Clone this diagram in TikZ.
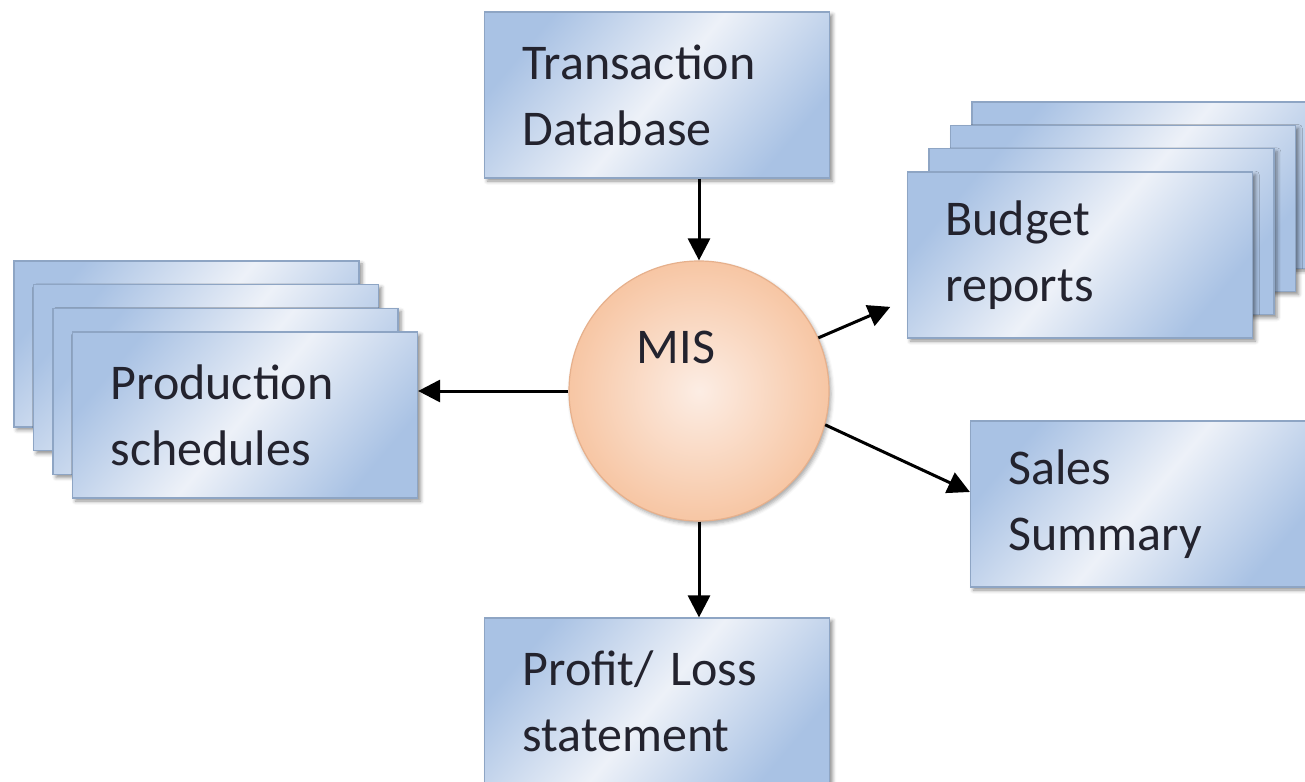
\documentclass[tikz,border=0pt]{standalone}
\usepackage{fontspec}
\setmainfont{Carlito}
\usepackage{xcolor}
\usetikzlibrary{arrows.meta,calc,shadows.blur}
\definecolor{boxdark}{HTML}{A9C2E4}
\definecolor{boxlight}{HTML}{EDF1F8}
\definecolor{boxline}{HTML}{8EA5C4}
\definecolor{misouter}{HTML}{F7C6A4}
\definecolor{misinner}{HTML}{FCEDE4}
\definecolor{misline}{HTML}{E6B08C}
\definecolor{txt}{HTML}{23232E}
\tikzset{
	report/.style={
			draw=boxline, line width=0.6pt,
			left color=boxdark, right color=boxdark, middle color=boxlight, shading angle=50,
			blur shadow={shadow xshift=1.5pt, shadow yshift=-1.5pt, shadow blur steps=4, shadow opacity=45},
			minimum height=83pt, text width=134.5pt, inner xsep=19pt,
			align=left, text=txt, font=\fontsize{25}{33}\selectfont
		},
	flow/.style={-{Triangle[length=11pt,width=11pt]}, line width=1.5pt}
}

\begin{document}
\begin{tikzpicture}[x=0.5pt, y=-0.5pt]
		\useasboundingbox (0,0) rectangle (1305,781);
		\coordinate (budgetpos) at (1080,255);
		\coordinate (prodpos) at (245,415);
		\foreach \i in {3,2,1}
			\node[report] (budget\i) at ($(budgetpos)+(\i*21.5,-\i*23.3)$) {};
		\node[report] (budget) at (budgetpos) {Budget\\reports};
		\foreach \i in {3,2,1}
			\node[report] (prod\i) at ($(prodpos)+(-\i*19.5,-\i*23.7)$) {};
		\node[report] (prod) at (prodpos) {Production\\schedules};
		\node[report] (trans) at (657,95) {Transaction\\Database};
		\node[report] (sales) at (1143,504) {Sales\\Summary};
		\node[report] (profit) at (657,701) {Profit/ Loss\\statement};
		\node[circle, draw=misline, line width=0.6pt, inner color=misinner, outer color=misouter,
			minimum size=130pt, blur shadow={shadow xshift=1pt, shadow yshift=-1.5pt, shadow opacity=35}] (mis) at (699,391) {};
		\node[text=txt, font=\fontsize{25}{33}\selectfont] (mislabel) at ($(mis)+(-23,-44)$) {MIS};
		\draw[flow] (trans.south -| mis.north) -- (mis.north);
		\draw[flow] (mis.south) -- (mis.south |- profit.north);
		\draw[flow] (mis.west) -- (mis.west -| prod.east);
		\draw[flow] (mis.24) -- ($(mis.24)+(72,-31)$);
		\draw[flow] (mis.-15) -- ([yshift=6pt]sales.west);
	\end{tikzpicture}
\end{document}
